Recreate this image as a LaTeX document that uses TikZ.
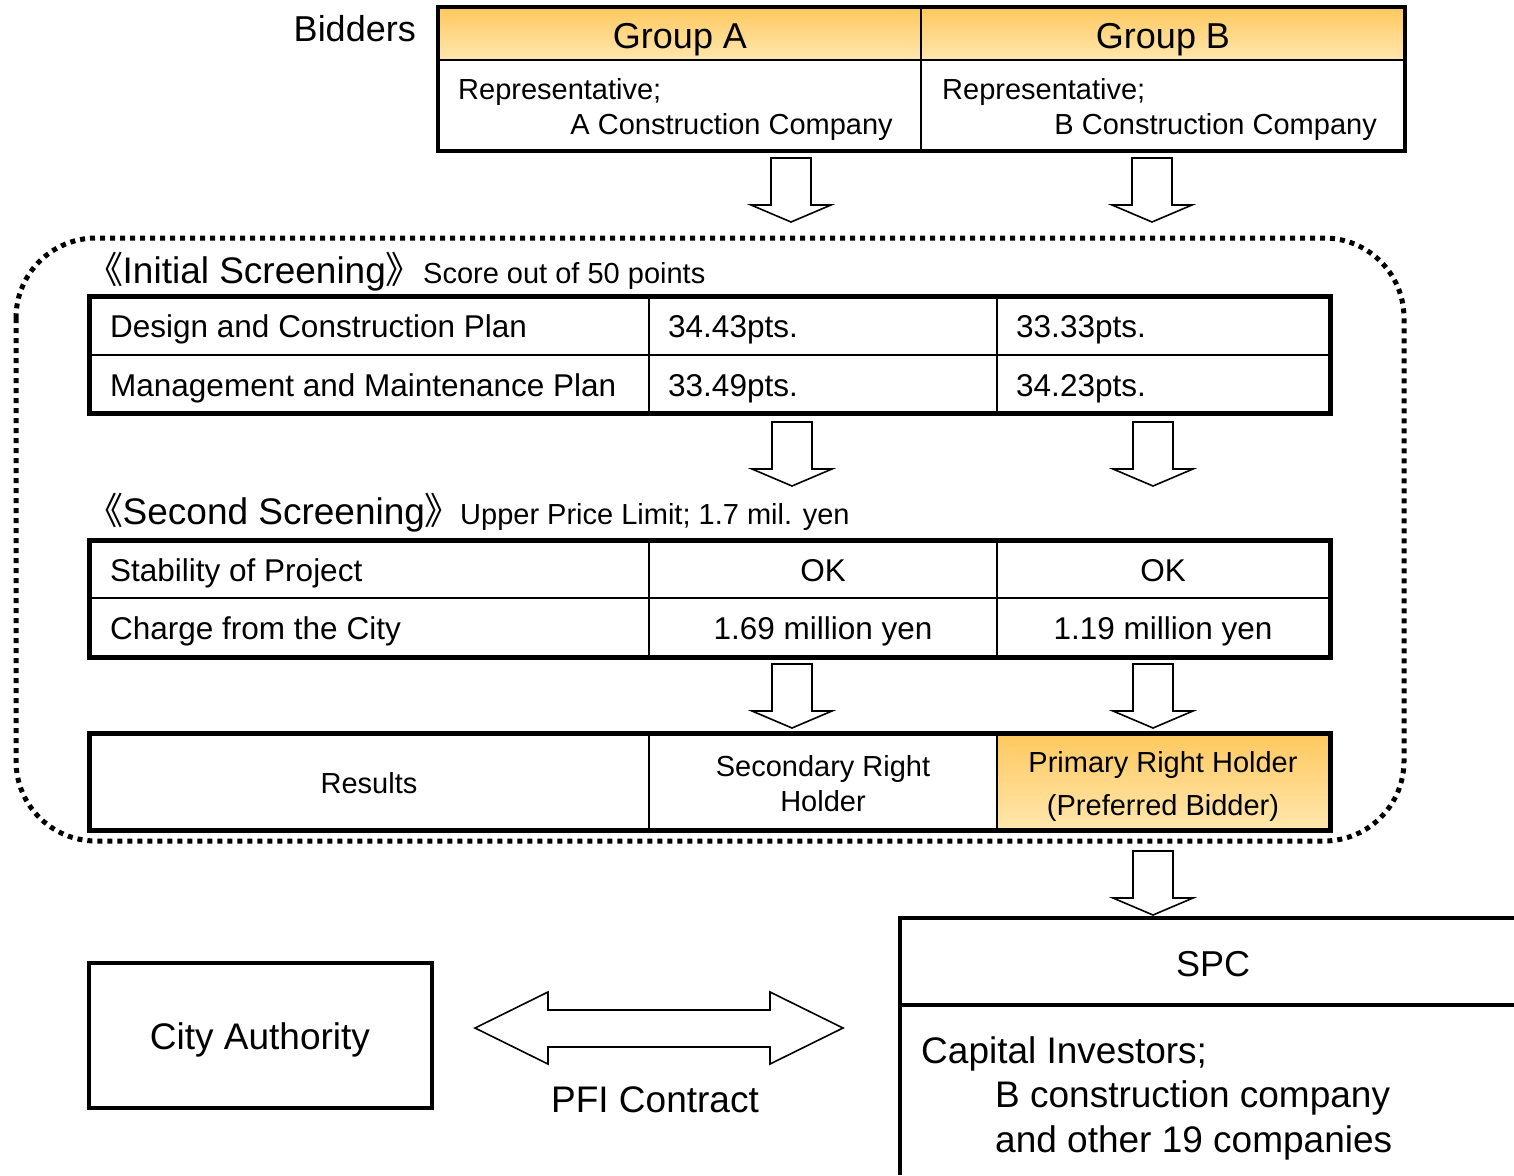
\documentclass[tikz,border=0pt]{standalone}
\usepackage{fontspec}
\setmainfont{Liberation Sans}
\newfontfamily\cjk[RawFeature=+palt]{Noto Sans CJK JP}
\definecolor{hdtop}{HTML}{FFC85E}
\definecolor{hdbot}{HTML}{FFE7AE}
\newcommand\gradbox[4]{%
  \pgfmathtruncatemacro\ghgt{#4-#2}%
  \foreach \k in {0,...,\ghgt}{%
    \pgfmathtruncatemacro\gpct{100*\k/\ghgt}%
    \fill[hdbot!\gpct!hdtop] (#1,#2+\k) rectangle (#3,#2+\k+1.3);
  }%
}
\begin{document}
\begin{tikzpicture}[x=1pt,y=-1pt,
  f29/.style={inner sep=0pt,font=\fontsize{29}{35}\selectfont},
  f31/.style={inner sep=0pt,font=\fontsize{31.5}{38}\selectfont},
  f36/.style={inner sep=0pt,font=\fontsize{36}{43}\selectfont},
  f37/.style={inner sep=0pt,font=\fontsize{37}{44}\selectfont},
  outer/.style={line width=5pt},
  inner/.style={line width=2pt},
  darrow/.pic={\draw[line width=1.6pt,fill=white,line join=miter] (-20,0) -- (20,0) -- (20,47) -- (40,47) -- (0,64) -- (-40,47) -- (-20,47) -- cycle;}
]
\useasboundingbox (0,0) rectangle (1514,1175);

% ---------- Bidders table ----------
\node[f36,anchor=base east] (bidders) at (416,41) {Bidders};
\gradbox{438}{7}{1405}{59}
\draw[inner] (438,60) -- (1405,60);
\draw[inner] (921,7) -- (921,151);
\draw[line width=4pt] (438,7) rectangle (1405,151);
\node[f36,anchor=base] (ga) at (680,48) {Group A};
\node[f36,anchor=base] (gb) at (1163,48) {Group B};
\node[f29,anchor=base west] (ra) at (458,99) {Representative;};
\node[f29,anchor=base east] (ca) at (893,134) {A Construction Company};
\node[f29,anchor=base west] (rb) at (942,99) {Representative;};
\node[f29,anchor=base east] (cb) at (1377,134) {B Construction Company};

% ---------- arrows row 1 ----------
\coordinate (a1) at (791,158);
\coordinate (b1) at (1152,158);
\pic at (a1) {darrow};
\pic at (b1) {darrow};

% ---------- dotted frame ----------
\draw[line width=5pt,dash pattern=on 5pt off 5pt,rounded corners=80pt] (16,238) rectangle (1404,841);

% ---------- Initial screening ----------
\node[f37,anchor=base west] (t1) at (104,283) {{\cjk 《}Initial Screening{\cjk 》}};
\node[f29,anchor=base west] (s1) at (423,283) {Score out of 50 points};
\draw[inner] (89,355) -- (1330,355);
\draw[inner] (649,296) -- (649,413);
\draw[inner] (997,296) -- (997,413);
\draw[outer] (89,296) rectangle (1330,413);
\node[f31,anchor=base west] (d1) at (110,337) {Design and Construction Plan};
\node[f31,anchor=base west] (d2) at (668,337) {34.43pts.};
\node[f31,anchor=base west] (d3) at (1016,337) {33.33pts.};
\node[f31,anchor=base west] (m1) at (110,396) {Management and Maintenance Plan};
\node[f31,anchor=base west] (m2) at (668,396) {33.49pts.};
\node[f31,anchor=base west] (m3) at (1016,396) {34.23pts.};

% ---------- arrows row 2 ----------
\coordinate (a2) at (792,422);
\coordinate (b2) at (1153,422);
\pic at (a2) {darrow};
\pic at (b2) {darrow};

% ---------- Second screening ----------
\node[f37,anchor=base west] (t2) at (104,524) {{\cjk 《}Second Screening{\cjk 》}};
\node[f29,anchor=base west] (s2) at (460,524) {Upper Price Limit; 1.7 mil. yen};
\draw[inner] (89,598) -- (1330,598);
\draw[inner] (649,540) -- (649,657);
\draw[inner] (997,540) -- (997,657);
\draw[outer] (89,540) rectangle (1330,657);
\node[f31,anchor=base west] (p1) at (110,581) {Stability of Project};
\node[f31,anchor=base] (p2) at (823,581) {OK};
\node[f31,anchor=base] (p3) at (1163,581) {OK};
\node[f31,anchor=base west] (c1) at (110,639) {Charge from the City};
\node[f31,anchor=base] (c2) at (823,639) {1.69 million yen};
\node[f31,anchor=base] (c3) at (1163,639) {1.19 million yen};

% ---------- arrows row 3 ----------
\coordinate (a3) at (792,664);
\coordinate (b3) at (1153,664);
\pic at (a3) {darrow};
\pic at (b3) {darrow};

% ---------- Results ----------
\gradbox{997}{733}{1330}{829}
\draw[inner] (649,733) -- (649,830);
\draw[inner] (997,733) -- (997,830);
\draw[outer] (89,733) rectangle (1330,830);
\node[f29,anchor=base] (r1) at (369,793) {Results};
\node[f29,anchor=base] (r2a) at (823,776) {Secondary Right};
\node[f29,anchor=base] (r2b) at (823,811) {Holder};
\node[f29,anchor=base] (r3a) at (1163,772) {Primary Right Holder};
\node[f29,anchor=base] (r3b) at (1163,815) {(Preferred Bidder)};

% ---------- arrow to SPC ----------
\coordinate (b4) at (1153,851);
\pic at (b4) {darrow};

% ---------- SPC ----------
\draw[line width=4pt] (900,1175) -- (900,918) -- (1514,918);
\draw[line width=4pt] (900,1005) -- (1514,1005);
\node[f36,anchor=base] (spc) at (1213,976) {SPC};
\node[f37,anchor=base west] (inv1) at (921,1063) {Capital Investors;};
\node[f37,anchor=base west] (inv2) at (995,1107) {B construction company};
\node[f37,anchor=base west] (inv3) at (995,1152) {and other 19 companies};

% ---------- City Authority ----------
\draw[line width=4pt] (89,963) rectangle (432,1108);
\node[f37,anchor=base] (city) at (260,1049) {City Authority};

% ---------- PFI contract double arrow ----------
\coordinate (dl) at (475,1028);
\coordinate (dr) at (843,1028);
\draw[line width=1.6pt,line join=miter] (dl) -- (548,992) -- (548,1010) -- (770,1010) -- (770,992) -- (dr) -- (770,1064) -- (770,1047) -- (548,1047) -- (548,1064) -- cycle;
\node[f37,anchor=base] (pfi) at (655,1112) {PFI Contract};
\end{tikzpicture}
\end{document}
